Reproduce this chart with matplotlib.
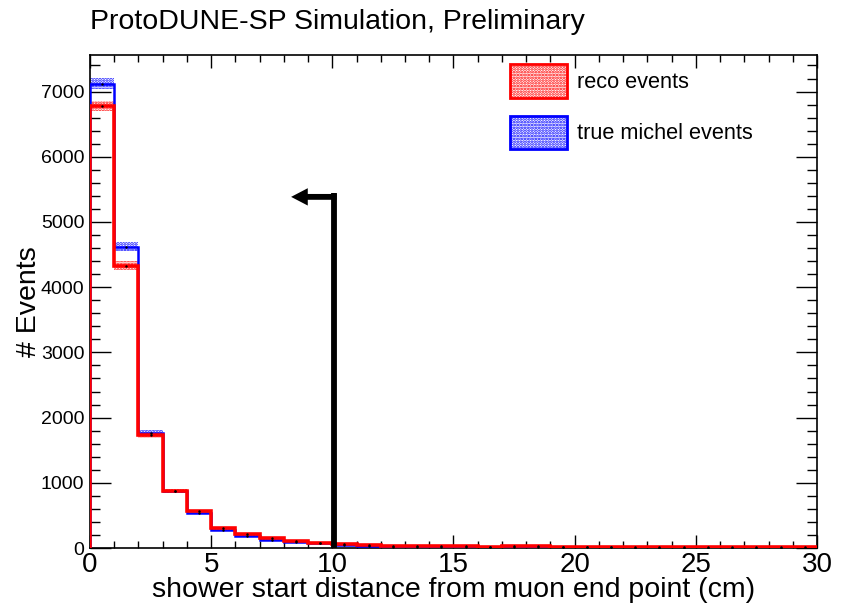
import numpy as np
import matplotlib
matplotlib.use("Agg")
import matplotlib.pyplot as plt
from matplotlib.patches import Patch

plt.rcParams['font.family'] = ['Liberation Sans', 'DejaVu Sans']
plt.rcParams['hatch.linewidth'] = 1.3

# bin edges (cm), 1 cm bins from 0 to 30
edges = np.arange(0, 31, 1)

# reco events per bin
reco = np.array([6780, 4330, 1730, 880, 560, 300, 220, 150, 110, 80,
                 60, 40, 35, 30, 30, 25, 20, 25, 25, 22,
                 20, 20, 18, 18, 20, 18, 15, 15, 12, 10])
# true michel events per bin
true_michel = np.array([7120, 4620, 1770, 870, 540, 280, 180, 130, 90, 70,
                        40, 25, 15, 12, 12, 10, 10, 10, 10, 8,
                        8, 8, 6, 6, 6, 5, 5, 5, 4, 4])

cut_x = 10.08
arrow_y = 5385
arrow_tip = 8.3

fig = plt.figure(figsize=(8.44, 6.05), dpi=100)
ax = fig.add_axes([0.1066, 0.0942, 0.8614, 0.8148])

for counts, col, lw in [(true_michel, 'blue', 1.8), (reco, 'red', 2.6)]:
    err = np.sqrt(counts)
    ax.bar(edges[:-1], 2 * err, bottom=counts - err, width=1.0, align='edge',
           facecolor='white', edgecolor=col, hatch='......', linewidth=0, zorder=2)
    ax.stairs(counts, edges, color=col, lw=lw, zorder=3)
    ax.plot(edges[:-1] + 0.5, counts, 'k.', ms=1.5, zorder=4)

# cut arrow
ax.plot([cut_x, cut_x], [0, arrow_y + 60], color='black', lw=4.2, solid_capstyle='butt', zorder=5)
ax.annotate('', xy=(arrow_tip, arrow_y), xytext=(cut_x + 0.1, arrow_y),
            arrowprops=dict(width=4.2, headwidth=12.5, headlength=12, facecolor='black',
                            edgecolor='none', shrink=0), zorder=5)

ax.set_xlim(0, 30)
ax.set_ylim(0, 7560)
ax.set_xticks(np.arange(0, 31, 5))
ax.set_xticks(np.arange(0, 31, 1), minor=True)
ax.set_yticks(np.arange(0, 7001, 1000))
ax.set_yticks(np.arange(0, 7501, 200), minor=True)
ax.tick_params(axis='both', which='both', direction='in', top=True, right=True, width=1)
ax.tick_params(axis='y', which='major', length=15, labelsize=14, pad=4)
ax.tick_params(axis='y', which='minor', length=7.5)
ax.tick_params(axis='x', which='major', length=9.5, labelsize=20, pad=3)
ax.tick_params(axis='x', which='minor', length=5)
for s in ax.spines.values():
    s.set_linewidth(1.2)

ax.set_xlabel('shower start distance from muon end point (cm)', fontsize=20.5, labelpad=-1)
ax.set_ylabel('# Events', fontsize=20.5, labelpad=-1)
fig.text(0.107, 0.963, 'ProtoDUNE-SP Simulation, Preliminary', fontsize=20.5, va='center', ha='left')

handles = [Patch(facecolor='white', edgecolor='red', hatch='......', lw=2, label='reco events'),
           Patch(facecolor='white', edgecolor='blue', hatch='......', lw=2, label='true michel events')]
ax.legend(handles=handles, loc='upper left', bbox_to_anchor=(0.578, 0.981), frameon=False,
          borderpad=0, borderaxespad=0, fontsize=15.7, handlelength=2.6, handleheight=2.0,
          labelspacing=0.8, handletextpad=0.45)

fig.savefig('out.png', dpi=100)
